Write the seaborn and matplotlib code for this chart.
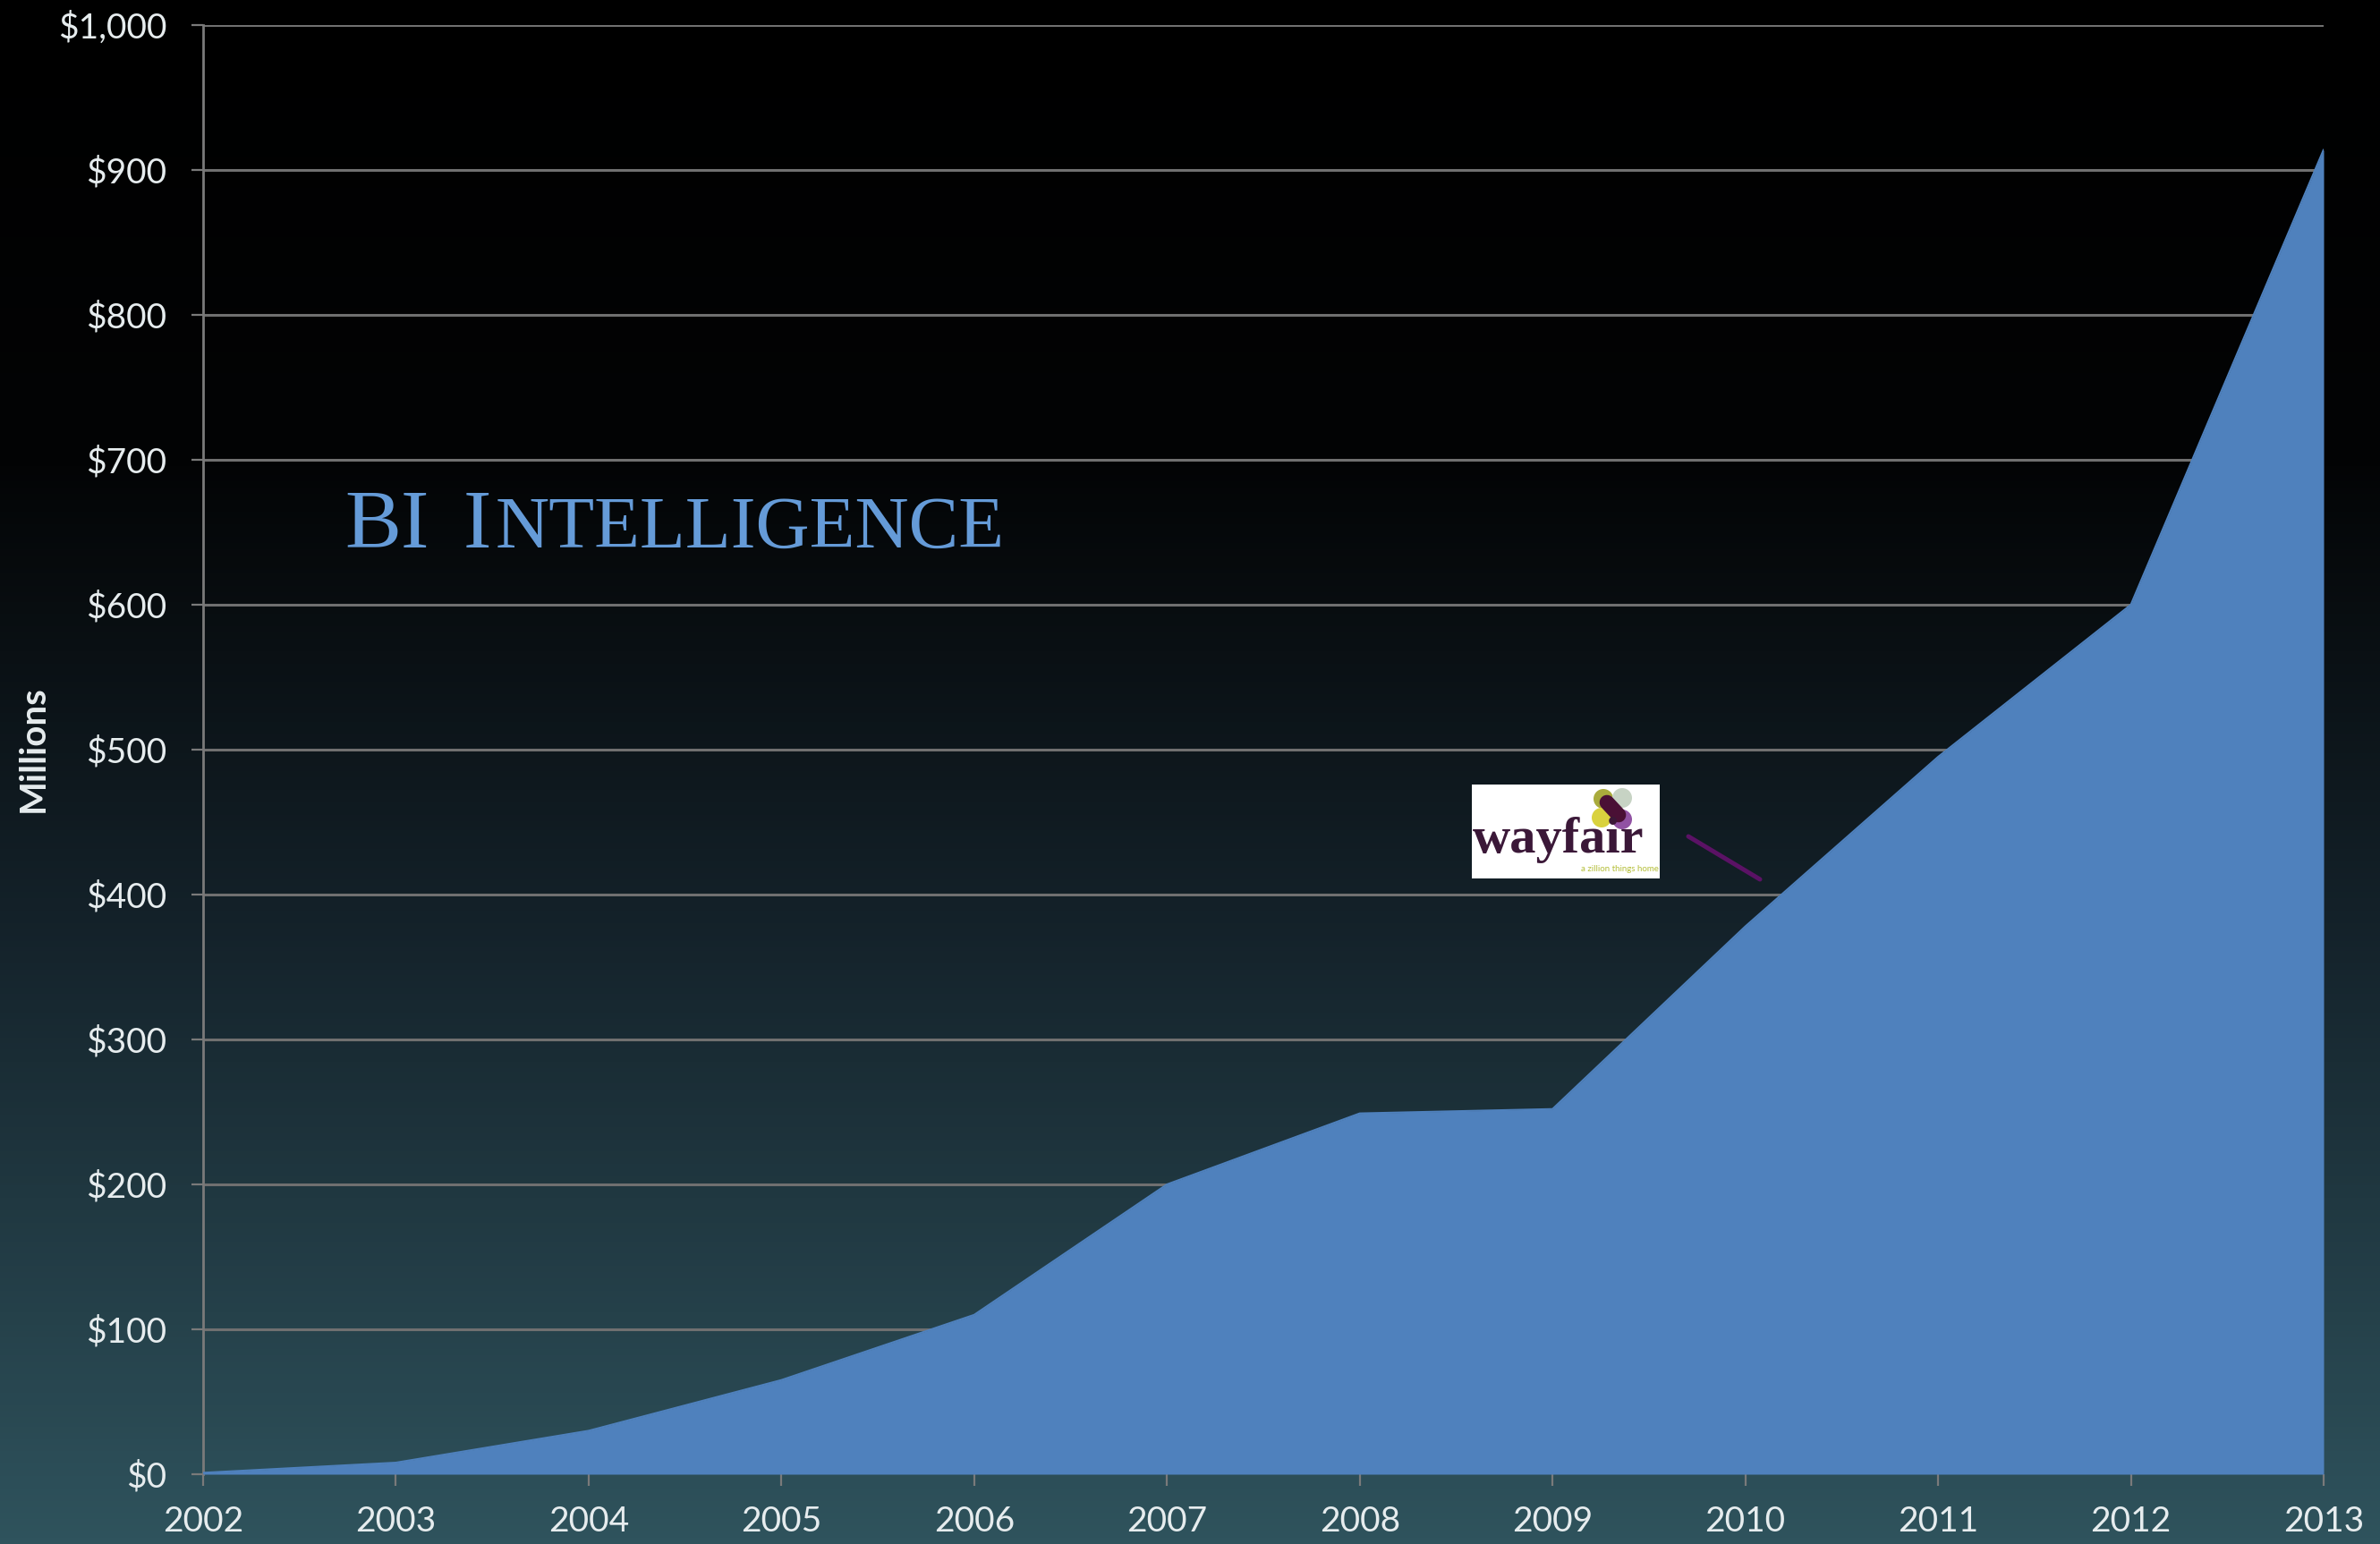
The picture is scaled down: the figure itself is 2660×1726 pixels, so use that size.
import numpy as np
import pandas as pd
import matplotlib
matplotlib.use("Agg")
import matplotlib.pyplot as plt
import seaborn as sns
from matplotlib.colors import LinearSegmentedColormap
from matplotlib.patches import Circle
from matplotlib.lines import Line2D
from matplotlib.ticker import FuncFormatter

# ==========================================
# DATA ($ millions)
# ==========================================

years = [2002, 2003, 2004, 2005, 2006, 2007, 2008, 2009, 2010, 2011, 2012, 2013]
revenue = [1, 8, 30, 65, 110, 200, 249, 252, 378, 495, 600, 914]
y_ticks = [0, 100, 200, 300, 400, 500, 600, 700, 800, 900, 1000]

df = pd.DataFrame({"year": years, "revenue": revenue})

# ==========================================
# STYLE
# ==========================================

sns.set_theme(style="dark")
plt.rcParams["font.family"] = ["Lato", "DejaVu Sans"]

W, H = 2660, 1726
fig = plt.figure(figsize=(W / 100, H / 100), dpi=100)

# background gradient, black on top to dark teal at the bottom
bg = fig.add_axes([0, 0, 1, 1], zorder=0)
grad = np.linspace(0, 1, 500).reshape(-1, 1)
cmap = LinearSegmentedColormap.from_list(
    "bg",
    [(0.0, "#000000"), (0.3, "#030405"), (0.6, "#14222a"), (1.0, "#2f535d")]
)
bg.imshow(grad, aspect="auto", cmap=cmap, extent=[0, 1, 0, 1], origin="upper")
bg.axis("off")

# ==========================================
# AREA CHART
# ==========================================

ax = fig.add_axes([227 / W, 1 - 1648 / H, 2370 / W, 1620 / H], zorder=1)
ax.set_facecolor("none")

ax.fill_between(df["year"], df["revenue"], color="#4f81bd", lw=0, zorder=3)
sns.lineplot(data=df, x="year", y="revenue", color="#4f81bd",
             lw=1.5, ax=ax, zorder=3)

ax.set_xlim(2002, 2013)
ax.set_ylim(0, 1000)
ax.set_xticks(years)
ax.set_yticks(y_ticks)
ax.yaxis.set_major_formatter(FuncFormatter(lambda v, p: f"${v:,.0f}"))
ax.set_xlabel("")
ax.set_ylabel("")

ax.grid(axis="y", color="#707070", lw=2.2, zorder=1)
ax.grid(axis="x", visible=False)
ax.set_axisbelow(True)

for side in ["top", "right", "bottom"]:
    ax.spines[side].set_visible(False)
ax.spines["left"].set_color("#7a7a7a")
ax.spines["left"].set_linewidth(2)

ax.tick_params(axis="both", bottom=True, left=True, direction="out",
               colors="#7a7a7a", length=9.4, width=1.6,
               labelcolor="#e6ecee", labelsize=28)
ax.tick_params(axis="y", pad=20)
ax.tick_params(axis="x", pad=16)

fig.text(37 / W, 1 - 837 / H, "Millions", rotation=90, ha="center",
         va="center", fontsize=29, fontweight="bold", color="#e6ecee")

# ==========================================
# BI INTELLIGENCE (small caps)
# ==========================================

title_color = "#659bd8"
serif = ["Liberation Serif", "DejaVu Serif"]
base = 1 - 612 / H
fig.text(385 / W, base, "BI", family=serif, fontsize=68,
         color=title_color, va="baseline")
fig.text(518 / W, base, "I", family=serif, fontsize=68,
         color=title_color, va="baseline")
fig.text(554 / W, base, "NTELLIGENCE", family=serif, fontsize=60,
         color=title_color, va="baseline")

# ==========================================
# WAYFAIR LOGO + POINTER
# ==========================================

logo = fig.add_axes([1645 / W, 1 - 982 / H, 210 / W, 105 / H], zorder=4)
logo.set_facecolor("white")
logo.set_xlim(0, 210)
logo.set_ylim(105, 0)
logo.set_xticks([])
logo.set_yticks([])
for s in logo.spines.values():
    s.set_visible(False)

for (cx, cy), c in zip([(147, 16), (168, 15), (145, 37), (168, 39)],
                       ["#a9ab3c", "#c7d3c4", "#d9d23e", "#9152a3"]):
    logo.add_patch(Circle((cx, cy), 11, color=c, lw=0))
logo.plot([151, 164], [20, 34], color="#4a1035", lw=12,
          solid_capstyle="round")

logo.text(1, 76, "wayfair", family=serif, fontweight="bold", fontsize=42,
          color="#3b1838", va="baseline", ha="left")
logo.text(209, 97, "a zillion things home", fontsize=7, color="#b5bf3a",
          va="baseline", ha="right")

fig.add_artist(Line2D([1887 / W, 1967 / W], [1 - 935 / H, 1 - 983 / H],
                      transform=fig.transFigure, color="#5b1265", lw=3.6,
                      solid_capstyle="round", zorder=5))

fig.savefig("out.png", dpi=100)
